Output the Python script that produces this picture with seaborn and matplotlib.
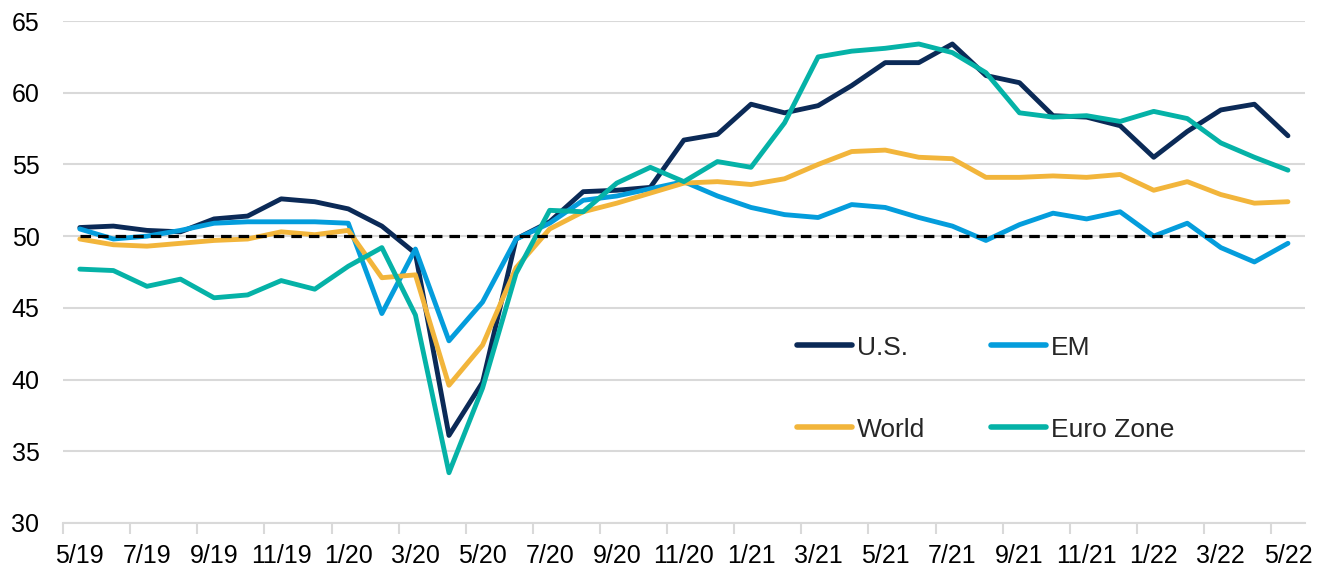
import pandas as pd
import seaborn as sns
import matplotlib
import matplotlib.pyplot as plt

matplotlib.use("Agg")

# monthly readings, 5/19 .. 5/22
months = [
    "5/19", "6/19", "7/19", "8/19", "9/19", "10/19", "11/19", "12/19",
    "1/20", "2/20", "3/20", "4/20", "5/20", "6/20", "7/20", "8/20",
    "9/20", "10/20", "11/20", "12/20", "1/21", "2/21", "3/21", "4/21",
    "5/21", "6/21", "7/21", "8/21", "9/21", "10/21", "11/21", "12/21",
    "1/22", "2/22", "3/22", "4/22", "5/22",
]
us = [50.6, 50.7, 50.4, 50.3, 51.2, 51.4, 52.6, 52.4, 51.9, 50.7, 48.8, 36.1,
      39.8, 49.8, 51.0, 53.1, 53.2, 53.4, 56.7, 57.1, 59.2, 58.6, 59.1, 60.5,
      62.1, 62.1, 63.4, 61.2, 60.7, 58.4, 58.3, 57.7, 55.5, 57.3, 58.8, 59.2, 57.0]
em = [50.5, 49.8, 50.0, 50.4, 50.9, 51.0, 51.0, 51.0, 50.9, 44.6, 49.1, 42.7,
      45.4, 49.8, 50.9, 52.5, 52.8, 53.3, 53.8, 52.8, 52.0, 51.5, 51.3, 52.2,
      52.0, 51.3, 50.7, 49.7, 50.8, 51.6, 51.2, 51.7, 50.0, 50.9, 49.2, 48.2, 49.5]
world = [49.8, 49.4, 49.3, 49.5, 49.7, 49.8, 50.3, 50.1, 50.4, 47.1, 47.3, 39.6,
         42.4, 47.8, 50.5, 51.7, 52.3, 53.0, 53.7, 53.8, 53.6, 54.0, 55.0, 55.9,
         56.0, 55.5, 55.4, 54.1, 54.1, 54.2, 54.1, 54.3, 53.2, 53.8, 52.9, 52.3, 52.4]
euro = [47.7, 47.6, 46.5, 47.0, 45.7, 45.9, 46.9, 46.3, 47.9, 49.2, 44.5, 33.5,
        39.4, 47.4, 51.8, 51.7, 53.7, 54.8, 53.8, 55.2, 54.8, 57.9, 62.5, 62.9,
        63.1, 63.4, 62.8, 61.4, 58.6, 58.3, 58.4, 58.0, 58.7, 58.2, 56.5, 55.5, 54.6]
threshold = 50

series = ["U.S.", "EM", "World", "Euro Zone"]
colors = {"U.S.": "#0B2A57", "EM": "#049DDC", "World": "#F2B53B", "Euro Zone": "#05B2A7"}

frames = []
for name, vals in zip(series, [us, em, world, euro]):
    frames.append(pd.DataFrame({"i": range(len(months)), "value": vals, "series": name}))
data = pd.concat(frames, ignore_index=True)

sns.set_style("white")
plt.rcParams["font.family"] = ["Liberation Sans", "DejaVu Sans"]

fig, ax = plt.subplots(figsize=(13.3, 5.69), dpi=100)
fig.subplots_adjust(left=0.0474, right=0.981, top=0.963, bottom=0.081)

sns.lineplot(
    data=data, x="i", y="value", hue="series", hue_order=series,
    palette=colors, linewidth=3.5, errorbar=None, legend=False, ax=ax,
    solid_capstyle="round", solid_joinstyle="round",
)
ax.hlines(threshold, 0, len(months) - 1, colors="black", linewidth=2.3,
          linestyles=(0, (3.3, 2.2)), zorder=10)

ax.set_xlim(-0.5, len(months) - 0.5)
ax.set_ylim(30, 65)
ax.set_yticks(range(30, 66, 5))
ax.yaxis.grid(True, color="#D9D9D9", linewidth=1.5)
ax.set_axisbelow(True)

ax.set_xticks(range(0, len(months), 2))
ax.set_xticklabels(months[::2])
ax.set_xticks([k - 0.5 for k in range(0, len(months), 2)], minor=True)
ax.tick_params(axis="x", which="major", bottom=True, length=0, pad=15,
               labelsize=18, colors="black")
ax.tick_params(axis="x", which="minor", bottom=True, length=8, width=1.5,
               color="#D9D9D9")
ax.tick_params(axis="y", length=0, pad=17, labelsize=18, colors="black")
ax.set_xlabel("")
ax.set_ylabel("")

for side in ["left", "right", "top"]:
    ax.spines[side].set_visible(False)
ax.spines["bottom"].set_color("#D9D9D9")
ax.spines["bottom"].set_linewidth(1.5)

lines = dict(zip(series, ax.get_lines()[: len(series)]))
order = ["U.S.", "World", "EM", "Euro Zone"]
leg = ax.legend(
    [lines[s] for s in order], order, ncol=2, loc="center left",
    bbox_to_anchor=(0.599, 0.317), bbox_transform=fig.transFigure,
    frameon=False, fontsize=19, handlelength=2.1, handletextpad=0.18,
    columnspacing=2.5, labelspacing=2.2, borderpad=0, borderaxespad=0,
)
for h in leg.get_lines():
    h.set_linewidth(4)
    h.set_solid_capstyle("round")

fig.savefig("out.png", dpi=100)
